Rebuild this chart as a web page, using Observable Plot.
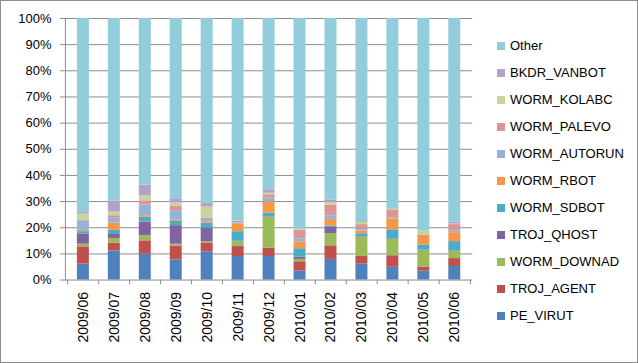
<!DOCTYPE html>
<html>
<head>
<meta charset="utf-8">
<script src="https://cdn.jsdelivr.net/npm/d3@7"></script>
<script src="https://cdn.jsdelivr.net/npm/@observablehq/plot@0.6"></script>
<style>
  html, body { margin: 0; padding: 0; background: #fff; }
  #wrap { position: relative; width: 638px; height: 363px; box-sizing: border-box; border: 1px solid #8c8c8c; overflow: hidden; font-family: "Liberation Sans", Arial, sans-serif; }
  #chart { position: absolute; left: -1px; top: -1px; }
  #legend { position: absolute; left: 496px; top: 31px; font-size: 13px; color: #000; }
  .item { height: 27px; display: flex; align-items: center; white-space: nowrap; }
  .sw { width: 8px; height: 8px; margin-right: 5px; }
</style>
</head>
<body>
<div id="wrap"><div id="chart"></div><div id="legend"></div></div>
<script>
const months = ["2009/06","2009/07","2009/08","2009/09","2009/10","2009/11","2009/12","2010/01","2010/02","2010/03","2010/04","2010/05","2010/06"];
const seriesNames = ["PE_VIRUT","TROJ_AGENT","WORM_DOWNAD","TROJ_QHOST","WORM_SDBOT","WORM_RBOT","WORM_AUTORUN","WORM_PALEVO","WORM_KOLABC","BKDR_VANBOT","Other"];
const colors = ["#4F81BD","#C0504D","#9BBB59","#8064A2","#4BACC6","#F79646","#95B3D7","#D99694","#C3D69B","#B2A2C7","#92CDDC"];

const PE_VIRUT     = [6.1, 11.1, 9.9, 7.7, 10.8, 9.0, 9.0, 3.4, 7.9, 6.1, 4.9, 3.4, 5.2];
const TROJ_AGENT   = [6.6, 3.0, 5.1, 5.2, 3.4, 3.8, 3.2, 3.6, 5.2, 2.9, 4.4, 1.6, 3.0];
const WORM_DOWNAD  = [1.0, 1.8, 1.9, 0.8, 0.5, 1.9, 11.9, 0.9, 4.7, 7.4, 6.2, 6.3, 2.8];
const TROJ_QHOST   = [3.8, 1.8, 5.3, 7.1, 5.2, 0.2, 0.2, 0.8, 2.3, 0.2, 0.2, 0.2, 0.2];
const WORM_SDBOT   = [1.0, 1.3, 1.8, 1.6, 1.9, 3.6, 1.3, 3.3, 0.6, 1.1, 3.5, 1.9, 3.5];
const WORM_RBOT    = [0.5, 2.8, 0.6, 0.5, 0.5, 2.8, 4.3, 2.5, 2.4, 1.0, 4.1, 3.7, 3.4];
const WORM_AUTORUN = [3.5, 1.8, 4.1, 3.6, 0.8, 0.5, 1.4, 1.3, 1.5, 0.6, 0.3, 0.1, 0.6];
const WORM_PALEVO  = [0.3, 1.0, 1.6, 1.6, 0.6, 0.6, 1.3, 3.3, 4.1, 1.9, 3.0, 0.1, 2.5];
const WORM_KOLABC  = [2.5, 1.4, 1.9, 1.4, 4.2, 0.2, 0.6, 0.2, 1.0, 0.8, 0.5, 1.5, 0.2];
const BKDR_VANBOT  = [0.8, 4.2, 4.1, 1.6, 1.4, 0.1, 1.3, 0.1, 0.8, 0.3, 0.2, 0.1, 0.8];
const Other        = [73.9, 69.8, 63.7, 68.9, 70.7, 77.3, 65.5, 80.6, 69.5, 77.7, 72.7, 81.1, 77.8];

const yTicks = [0, 0.1, 0.2, 0.3, 0.4, 0.5, 0.6, 0.7, 0.8, 0.9, 1.0];

const seriesValues = [PE_VIRUT, TROJ_AGENT, WORM_DOWNAD, TROJ_QHOST, WORM_SDBOT, WORM_RBOT, WORM_AUTORUN, WORM_PALEVO, WORM_KOLABC, BKDR_VANBOT, Other];
const rows = [];
months.forEach((m, i) => {
  seriesNames.forEach((s, j) => rows.push({month: m, series: s, value: seriesValues[j][i]}));
});

const W = 638, H = 363, ML = 65, MR = 165, MT = 18, MB = 83;
const step = (W - ML - MR) / months.length;

const chart = Plot.plot({
  width: W, height: H,
  marginLeft: ML, marginRight: MR, marginTop: MT, marginBottom: MB,
  style: {fontFamily: "'Liberation Sans', Arial, sans-serif", fontSize: "13px", color: "#000", background: "transparent"},
  x: {domain: months, paddingInner: 0.61, paddingOuter: 0.305, label: null},
  y: {domain: [0, 1], label: null},
  color: {domain: seriesNames, range: colors},
  marks: [
    Plot.ruleY(yTicks.slice(1), {y: d => d, stroke: "#8c8c8c", strokeWidth: 1, strokeOpacity: 1}),
    Plot.barY(rows, Plot.stackY({x: "month", y: "value", fill: "series", order: seriesNames, offset: "normalize"})),
    Plot.ruleX(months, {x: d => d, dx: -step / 2, y1: 0, y2: -0.018, stroke: "#8c8c8c"}),
    Plot.ruleX(months.slice(-1), {x: d => d, dx: step / 2, y1: 0, y2: -0.018, stroke: "#8c8c8c"}),
    Plot.ruleY([0], {stroke: "#8c8c8c"}),
    Plot.frame({anchor: "left", stroke: "#8c8c8c"}),
    Plot.axisY({ticks: yTicks, tickFormat: d3.format(".0%"), tickSize: 5, tickPadding: 9, stroke: "#8c8c8c", fontSize: 13}),
    Plot.axisX({tickSize: 0, tickPadding: 12, tickRotate: -90, fontSize: 14})
  ]
});
document.getElementById("chart").appendChild(chart);

const legend = document.getElementById("legend");
seriesNames.slice().reverse().forEach((s) => {
  const c = colors[seriesNames.indexOf(s)];
  const it = document.createElement("div");
  it.className = "item";
  it.innerHTML = `<span class="sw" style="background:${c}"></span><span>${s}</span>`;
  legend.appendChild(it);
});
</script>
</body>
</html>
